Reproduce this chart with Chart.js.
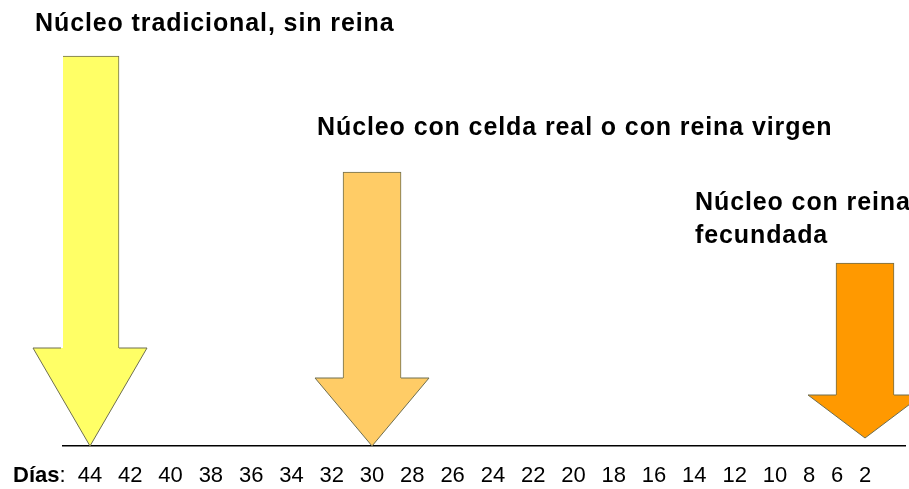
<!DOCTYPE html>
<html>
<head>
<meta charset="utf-8">
<script src="https://cdn.jsdelivr.net/npm/chart.js@4/dist/chart.umd.min.js"></script>
<style>
html,body{margin:0;padding:0;background:#fff;}
#wrap{width:909px;height:489px;position:relative;}
</style>
</head>
<body>
<div id="wrap"><canvas id="c" width="909" height="489"></canvas></div>
<script>
// ---- data ----
const dayLabels = ["44","42","40","38","36","34","32","30","28","26","24","22","20","18","16","14","12","10","8","6","2"];
const arrowNames = [["Núcleo tradicional, sin reina"], ["Núcleo con celda real o con reina virgen"], ["Núcleo con reina", "fecundada"]];
const arrowDays = ["44", "30", "2"];
const arrowTop = [390, 274, 183];
const arrowHeadStart = [98, 68, 51];
const arrowTip = [0, 0, 8];
const axisTitle = "Días";

// ---- styles ----
const arrowColors = ["#FFFF66", "#FFCC66", "#FF9900"];
const arrowBorder = "#6e6e50";
const SHAFT_W = 58, HEAD_HALF = 57;
const LABEL_GAP = 1.27; // gap between tick labels, in digit widths (text layout of the axis row)
const labelOffsets = [{dx: -55, dy: -25}, {dx: -55, dy: -37}, {dx: -170, dy: -53}];
const LINE_STEP = 33;
const FONT = "'Liberation Sans', Arial, sans-serif";

// tick label centres laid out like a line of text (in digit-width units)
const tickPos = [];
dayLabels.forEach((l, i) => {
  tickPos.push(i === 0 ? 0 : tickPos[i - 1] + dayLabels[i - 1].length / 2 + LABEL_GAP + l.length / 2);
});
const posOf = d => tickPos[dayLabels.indexOf(d)];
const lastPos = tickPos[tickPos.length - 1];

const arrowHeads = {
  id: 'arrowHeads',
  afterDatasetsDraw(chart) {
    const ctx = chart.ctx, xs = chart.scales.x, ys = chart.scales.y;
    ctx.save();
    arrowDays.forEach((d, i) => {
      const cx = xs.getPixelForValue(posOf(d));
      const yh = ys.getPixelForValue(arrowHeadStart[i]);
      const yt = ys.getPixelForValue(arrowTip[i]);
      const hw = SHAFT_W / 2;
      ctx.beginPath();
      ctx.moveTo(cx - hw, yh);
      ctx.lineTo(cx - HEAD_HALF, yh);
      ctx.lineTo(cx, yt);
      ctx.lineTo(cx + HEAD_HALF, yh);
      ctx.lineTo(cx + hw, yh);
      ctx.closePath();
      ctx.fillStyle = arrowColors[i];
      ctx.fill();
      ctx.beginPath();
      ctx.moveTo(cx - hw, yh);
      ctx.lineTo(cx - HEAD_HALF, yh);
      ctx.lineTo(cx, yt);
      ctx.lineTo(cx + HEAD_HALF, yh);
      ctx.lineTo(cx + hw, yh);
      ctx.strokeStyle = arrowBorder;
      ctx.lineWidth = 1;
      ctx.stroke();
      // label
      const ytop = ys.getPixelForValue(arrowTop[i]);
      ctx.fillStyle = "#000";
      ctx.font = "bold 25px " + FONT;
      try { ctx.letterSpacing = "0.9px"; } catch (e) {}
      ctx.textBaseline = "alphabetic";
      ctx.textAlign = "left";
      const off = labelOffsets[i];
      arrowNames[i].forEach((t, k) => {
        ctx.fillText(t, cx + off.dx, ytop + off.dy + k * LINE_STEP);
      });
      try { ctx.letterSpacing = "0px"; } catch (e) {}
    });
    // axis title "Días:"
    const yMid = xs.top + 17 + 13.2;
    ctx.textBaseline = "middle";
    ctx.font = "bold 22px " + FONT;
    ctx.fillText(axisTitle, 13, yMid);
    const w = ctx.measureText(axisTitle).width;
    ctx.font = "22px " + FONT;
    ctx.fillText(":", 13 + w, yMid);
    ctx.restore();
  }
};

const PX_LEFT = 27, PX_RIGHT = 40, SPAN = 775; // axis line overhang around first/last label
new Chart(document.getElementById('c'), {
  type: 'bar',
  data: {
    datasets: [{
      data: arrowDays.map((d, i) => ({x: posOf(d), y: [arrowHeadStart[i], arrowTop[i]]})),
      backgroundColor: arrowColors,
      borderColor: arrowBorder,
      borderWidth: {left: 1, right: 1, top: 1, bottom: 0},
      borderSkipped: false,
      barThickness: SHAFT_W
    }]
  },
  options: {
    responsive: false,
    animation: false,
    layout: {padding: {left: 63, right: 4, top: 46, bottom: 0}},
    plugins: {legend: {display: false}, tooltip: {enabled: false}},
    scales: {
      x: {
        type: 'linear',
        min: -lastPos * PX_LEFT / SPAN,
        max: lastPos * (1 + PX_RIGHT / SPAN),
        offset: false,
        grid: {display: false, drawTicks: false, offset: false},
        border: {display: true, color: '#000', width: 1.5},
        afterBuildTicks: s => { s.ticks = tickPos.map(v => ({value: v})); },
        afterFit: s => { s.height = 43; },
        ticks: {
          autoSkip: false, maxRotation: 0, minRotation: 0,
          padding: 17, color: '#000',
          font: {family: FONT, size: 22},
          callback: (v, i) => dayLabels[i]
        }
      },
      y: {display: false, min: 0, max: 400}
    }
  },
  plugins: [arrowHeads]
});
</script>
</body>
</html>
